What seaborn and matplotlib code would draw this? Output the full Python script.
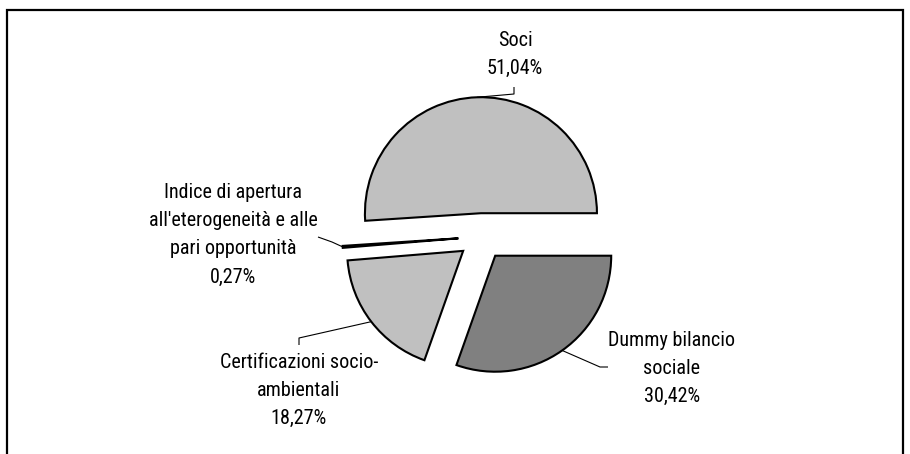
import numpy as np
import matplotlib
matplotlib.use("Agg")
import matplotlib.pyplot as plt
import seaborn as sns

# Shares of the indicator weights
categories = ["Soci",
              "Indice di apertura\nall'eterogeneità e alle\npari opportunità",
              "Certificazioni socio-\nambientali",
              "Dummy bilancio\nsociale"]
shares = [51.04, 0.27, 18.27, 30.42]
value_labels = ["51,04%", "0,27%", "18,27%", "30,42%"]
fills = ["#C0C0C0", "#808080", "#C0C0C0", "#808080"]

sns.set_theme(style="white")
plt.rcParams["font.family"] = ["Roboto Condensed", "DejaVu Sans Condensed", "Liberation Sans"]

W, H = 910, 454
fig = plt.figure(figsize=(W / 100, H / 100), dpi=100)
ax = fig.add_axes([0, 0, 1, 1])

center = (481.7, H - 236.6)
radius = 116
offset = 23.4  # pie explode distance, in data units

wedges, _ = ax.pie(shares, colors=fills, startangle=0, counterclock=True,
                   explode=[offset] * len(shares), radius=radius,
                   center=center, frame=True,
                   wedgeprops=dict(edgecolor="black", linewidth=1.5))
ax.set_xlim(0, W)
ax.set_ylim(0, H)
ax.set_aspect("equal")
ax.axis("off")

# Label blocks (text centre) and leader elbows, in pixel layout coordinates
label_pos = [(515, 54), (233, 235), (299, 390), (672, 368)]
elbows = [[(514, 94), (514, 87)],
          [(332, 242), (318, 237)],
          [(299, 338), (299, 345)],
          [(600, 367), (608, 367)]]

for w, cat, val, (lx, ly), elb in zip(wedges, categories, value_labels, label_pos, elbows):
    mid = np.deg2rad((w.theta1 + w.theta2) / 2)
    cx, cy = w.center
    px = cx + w.r * np.cos(mid)
    py = cy + w.r * np.sin(mid)
    xs = [px] + [e[0] for e in elb]
    ys = [py] + [H - e[1] for e in elb]
    ax.plot(xs, ys, color="black", linewidth=0.8, solid_capstyle="butt")
    ax.text(lx, H - ly, f"{cat}\n{val}", ha="center", va="center",
            fontsize=14.5, linespacing=1.6, color="black")

# Chart frame
frame_x = [7, 7, 903, 903]
frame_y = [-5, H - 10, H - 10, -5]
ax.plot(frame_x, frame_y, color="black", linewidth=1.6, solid_joinstyle="miter")

fig.savefig("out.png", dpi=100, facecolor="white")
